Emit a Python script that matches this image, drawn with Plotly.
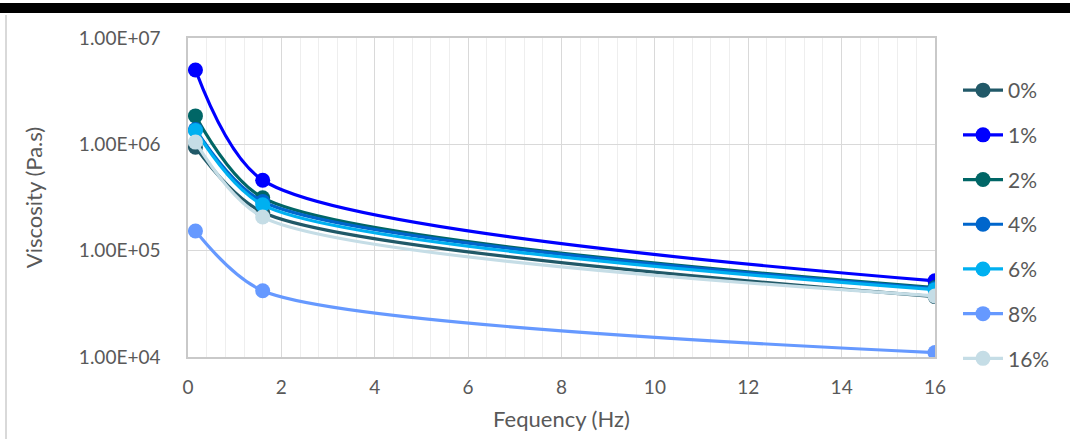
import plotly.graph_objects as go

freq = [0.16, 1.6, 16]
series_names = ["0%", "1%", "2%", "4%", "6%", "8%", "16%"]
v0 = [9.4e5, 2.3e5, 3.7e4]
v1 = [5.0e6, 4.6e5, 5.2e4]
v2 = [1.85e6, 3.15e5, 4.5e4]
v4 = [1.38e6, 2.9e5, 4.4e4]
v6 = [1.35e6, 2.7e5, 4.3e4]
v8 = [1.53e5, 4.2e4, 1.1e4]
v16 = [1.05e6, 2.07e5, 3.75e4]
colors = ["#215968", "#0000FF", "#006666", "#0066CC", "#00B0F0", "#6699FF", "#C5DDE6"]
series_values = [v0, v1, v2, v4, v6, v8, v16]

y_tickvals = [1e4, 1e5, 1e6, 1e7]
y_ticktext = ["1.00E+04", "1.00E+05", "1.00E+06", "1.00E+07"]
x_tickvals = [0, 2, 4, 6, 8, 10, 12, 14, 16]

FONT = "Lato, Open Sans, sans-serif"
GREY = "#595959"

fig = go.Figure()
for name, vals, col in zip(series_names, series_values, colors):
    fig.add_trace(go.Scatter(
        x=freq, y=vals, name=name, legendgroup=name,
        mode="lines+markers",
        line=dict(color=col, width=3.2, shape="spline", smoothing=0.75),
        marker=dict(color=col, size=15),
    ))

L, R, T, B = 188, 135, 38, 82
W, H = 1070, 439
pw = W - L - R
ph = H - T - B

fig.update_layout(
    width=W, height=H,
    margin=dict(l=L, r=R, t=T, b=B, autoexpand=False),
    plot_bgcolor="white", paper_bgcolor="white",
    font=dict(family=FONT, color=GREY, size=19),
    legend=dict(
        x=(958 - L) / pw, y=(357 - 70) / ph, xanchor="left", yanchor="top",
        font=dict(size=21, color=GREY), tracegroupgap=14.4,
        bgcolor="rgba(0,0,0,0)", itemwidth=40,
    ),
    showlegend=True,
    shapes=[
        dict(type="rect", xref="paper", yref="paper",
             x0=-L / pw, x1=(W - L) / pw,
             y0=(357 - 13) / ph, y1=(357 - 3) / ph,
             fillcolor="black", line=dict(width=0), layer="above"),
        dict(type="line", xref="paper", yref="paper",
             x0=(6 - L) / pw, x1=(6 - L) / pw,
             y0=(357 - 439) / ph, y1=(357 - 15) / ph,
             line=dict(color="#d9d9d9", width=2)),
    ],
)

fig.update_xaxes(
    range=[0, 16], tickvals=x_tickvals, ticks="", ticklabelstandoff=12,
    automargin=False,
    showgrid=True, gridcolor="#d9d9d9", gridwidth=1,
    minor=dict(dtick=0.4, tick0=0, showgrid=True, gridcolor="#eeeeee", gridwidth=1),
    showline=True, linecolor="#c9c9c9", linewidth=1.5, mirror=True,
    zeroline=False,
    title=dict(text="Fequency (Hz)", font=dict(size=22, color=GREY), standoff=15),
    tickfont=dict(size=19, color=GREY),
)
fig.update_yaxes(
    type="log", range=[4, 7], tickvals=y_tickvals, ticktext=y_ticktext,
    ticks="", ticklabelstandoff=22, automargin=False,
    showgrid=True, gridcolor="#d9d9d9", gridwidth=1,
    showline=True, linecolor="#c9c9c9", linewidth=1.5, mirror=True,
    zeroline=False,
    title=dict(text="Viscosity (Pa.s)", font=dict(size=22, color=GREY), standoff=30),
    tickfont=dict(size=19, color=GREY),
)

fig.write_html("out.html", config={"displayModeBar": False},
               post_script="document.body.style.margin='0';document.body.style.padding='0';")
